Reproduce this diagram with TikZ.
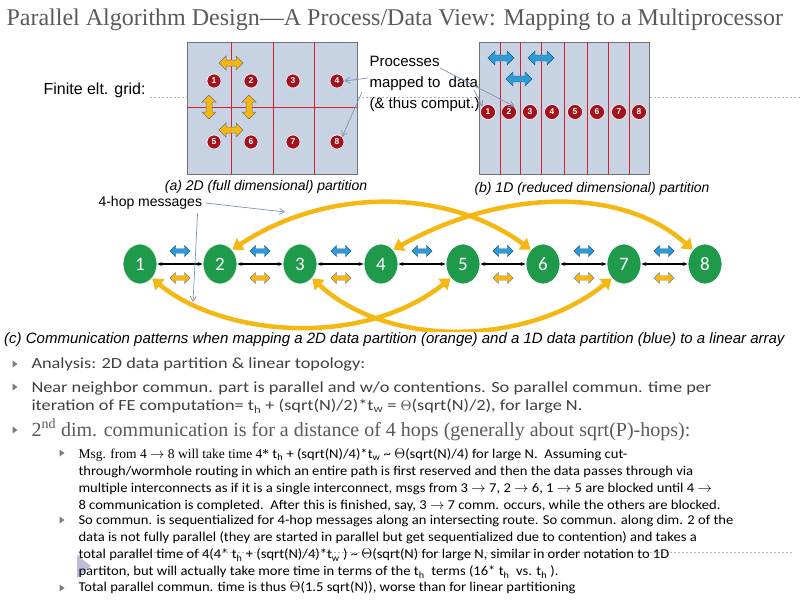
\documentclass[tikz,border=0pt]{standalone}
\usepackage{fontspec}
\setmainfont{Liberation Serif}
\newfontfamily\arialf{Liberation Sans}
\newfontfamily\gillA[FakeStretch=1.18]{Carlito}
\newfontfamily\gillB[FakeStretch=1.08]{Carlito}
\newfontfamily\gill{Carlito}
\usetikzlibrary{shapes.arrows,shapes.geometric,arrows.meta}
\definecolor{yel}{HTML}{F5B813}
\definecolor{blu}{HTML}{2E9AD6}
\definecolor{grn}{HTML}{1E9A4A}
\definecolor{redc}{HTML}{A3111C}
\definecolor{gridf}{HTML}{C7D3E2}
\definecolor{txt}{HTML}{404040}
\definecolor{ttl}{HTML}{5A5A5A}
\definecolor{pnt}{HTML}{7F93B8}
\definecolor{rline}{HTML}{D81E2A}
\tikzset{
 ya/.style={double arrow,fill=yel,draw=black!55,line width=0.5,minimum height=24,minimum width=14,double arrow head extend=3,inner sep=2},
 ba/.style={double arrow,fill=blu,draw=blu!60!black,line width=0.4,minimum height=26,minimum width=14,double arrow head extend=3,inner sep=2},
 sa/.style={double arrow,minimum height=20,minimum width=11,double arrow head extend=2.5,inner sep=1.5,line width=0.4},
 pc/.style={circle,fill=redc,draw=white,line width=0.6,text=white,inner sep=0,minimum size=14,font=\arialf\bfseries\fontsize{8.5}{8.5}\selectfont},
 gn/.style={ellipse,fill=grn,draw=white,line width=0.8,text=white,minimum width=34,minimum height=40,inner sep=0,font=\gill\fontsize{19}{19}\selectfont},
 big/.style={draw=yel,line width=4.5,{Triangle[length=10,width=14]}-{Triangle[length=10,width=14]}},
 ptr/.style={draw=pnt,line width=0.7,-{Straight Barb[length=5,width=6]}},
 redl/.style={draw=rline,line width=1},
 bul/.style={fill=ttl!80},
}
\begin{document}
\begin{tikzpicture}[x=1pt,y=-1pt]
\useasboundingbox (0,0) rectangle (800,600);
\fill[white] (0,0) rectangle (800,600);
\node[anchor=west,text=ttl,font=\fontsize{24}{24}\selectfont] (title) at (3,20) {Parallel Algorithm Design---A Process/Data View: Mapping to a Multiprocessor};
\draw[gray!60,dashed,dash pattern=on 2pt off 2pt] (150,97) -- (800,97);
\node[anchor=west,font=\arialf\fontsize{16}{16}\selectfont] (fin) at (40,90) {Finite elt. grid:};
% grid a
\draw[fill=gridf,draw=black!55,line width=1] (187,42) rectangle (357,174);
\foreach \x in {231,273,314} \draw[redl] (\x,42) -- (\x,174);
\draw[redl] (187,107) -- (357,107);
\foreach \n/\x/\y in {1/214/81,2/251/81,3/293/81,4/337/81,5/214/142,6/251/142,7/293/142,8/337/142}
  \node[pc] (a\n) at (\x,\y) {\n};
\node[ya] (ya1) at (231,63) {};
\node[ya] (ya2) at (231,130) {};
\node[ya,rotate=90] (ya3) at (209,107) {};
\node[ya,rotate=90] (ya4) at (249,107) {};
% grid b
\draw[fill=gridf,draw=black!55,line width=1] (479,42) rectangle (649,174);
\foreach \x in {500,520,541,564,587,608,629} \draw[redl] (\x,42) -- (\x,174);
\foreach \n/\x in {1/488,2/509,3/530,4/552,5/575,6/597,7/619,8/639}
  \node[pc,minimum size=15] (b\n) at (\x,112) {\n};
\node[ba] (ba1) at (501,58) {};
\node[ba] (ba2) at (541,58) {};
\node[ba] (ba3) at (519,79) {};
% processes text
\node[anchor=north west,align=left,font=\arialf\fontsize{15}{21}\selectfont] (proc) at (366,53) {Processes\\mapped to\ \ data\\(\& thus comput.)};
\coordinate (p1) at (440,68);
\coordinate (p2) at (474,90);
\coordinate (p3) at (368,78);
\coordinate (p4) at (362,92);
\draw[ptr] (p1) -- (b2.north east);
\draw[ptr] (p2) -- (b1.north west);
\draw[ptr] (p3) -- (a4.east);
\draw[ptr] (p4) -- (a8.north east);
\node[font=\arialf\itshape\fontsize{14}{14}\selectfont] (capa) at (266,187) {(a) 2D (full dimensional) partition};
\node[font=\arialf\itshape\fontsize{14}{14}\selectfont] (capb) at (592,189) {(b) 1D (reduced dimensional) partition};
% linear array
\foreach \n/\x in {1/140,2/220,3/300,4/381,5/463,6/543,7/624,8/705}
  \node[gn] (g\n) at (\x,264) {\n};
\foreach \a/\b in {1/2,2/3,3/4,4/5,5/6,6/7,7/8}
  \draw[line width=1.2,{Stealth[length=5]}-{Stealth[length=5]}] (g\a) -- (g\b);
\foreach \x in {180,260,341,422,503,584,664}
  \node[sa,fill=blu,draw=blu!60!black] at (\x,251) {};
\foreach \x in {180,260,341,503,584,664}
  \node[sa,fill=yel,draw=black!50] at (\x,278) {};
\draw[big] (g2.north east) .. controls (330,185) and (450,190) .. (g6.north west);
\draw[big] (g4.north east) .. controls (500,190) and (620,185) .. (g8.north west);
\draw[big] (g1.south east) .. controls (220,335) and (360,350) .. (g5.south west);
\draw[big] (g3.south east) .. controls (390,350) and (530,345) .. (g7.south west);
\node[anchor=west,font=\arialf\fontsize{14}{14}\selectfont] (hop) at (95,203) {4-hop messages};
\coordinate (h2) at (285,212);
\coordinate (h3) at (193,302);
\draw[ptr] (hop.east) -- (h2);
\draw[ptr] ([xshift=-8pt]hop.south east) -- (h3);
\node[anchor=west,fill=white,inner sep=1,font=\arialf\itshape\fontsize{15}{15}\selectfont] (capc) at (3,340) {(c) Communication patterns when mapping a 2D data partition (orange) and a 1D data partition (blue) to a linear array};
% bullets
\foreach \x/\y in {15/364,15/387,15/430,62/453,62/520,62/588}
  \fill[bul] (\x-2.5,\y-3.5) -- (\x+2.5,\y) -- (\x-2.5,\y+3.5) -- cycle;
\fill[blue!30!gray!40] (77,555) -- (91,566) -- (77,578) -- cycle;
\draw[gray!55,dashed,dash pattern=on 2pt off 2pt] (130,552) -- (792,552);
\node[anchor=west,text=txt,font=\gillA\fontsize{15.5}{15.5}\selectfont] (t1) at (28,364) {Analysis: 2D data partition \& linear topology:};
\node[anchor=north west,align=left,text=txt,font=\gillA\fontsize{15.5}{18.5}\selectfont] (t2) at (28,378) {Near neighbor commun. part is parallel and w/o contentions. So parallel commun. time per\\iteration of FE computation= t\textsubscript{h} + (sqrt(N)/2)*t\textsubscript{w} = $\Theta$(sqrt(N)/2), for large N.};
\node[anchor=west,text=ttl,font=\fontsize{20}{20}\selectfont] (t3) at (28,430) {2\textsuperscript{nd} dim. communication is for a distance of 4 hops (generally about sqrt(P)-hops):};
\node[anchor=north west,align=left,text=black,font=\gillB\fontsize{13.5}{17}\selectfont] (t4) at (75,445) {{\rmfamily Msg. from 4 $\rightarrow$ 8 will take time 4*} t\textsubscript{h} + (sqrt(N)/4)*t\textsubscript{w} \textasciitilde{} $\Theta$(sqrt(N)/4) for large N.\ \ Assuming cut-\\through/wormhole routing in which an entire path is first reserved and then the data passes through via\\multiple interconnects as if it is a single interconnect, msgs from 3 $\rightarrow$ 7, 2 $\rightarrow$ 6, 1 $\rightarrow$ 5 are blocked until 4 $\rightarrow$\\8 communication is completed.\ \ After this is finished, say, 3 $\rightarrow$ 7 comm. occurs, while the others are blocked.};
\node[anchor=north west,align=left,text=black,font=\gillB\fontsize{13.5}{17}\selectfont] (t5) at (75,512) {So commun. is sequentialized for 4-hop messages along an intersecting route. So commun. along dim. 2 of the\\data is not fully parallel (they are started in parallel but get sequentialized due to contention) and takes a\\total parallel time of 4(4* t\textsubscript{h} + (sqrt(N)/4)*t\textsubscript{w} ) \textasciitilde{} $\Theta$(sqrt(N) for large N, similar in order notation to 1D\\partiton, but will actually take more time in terms of the t\textsubscript{h}\ \ terms (16* t\textsubscript{h}\ \ vs. t\textsubscript{h} ).};
\node[anchor=west,text=black,font=\gillB\fontsize{13.5}{17}\selectfont] (t6) at (75,588) {Total parallel commun. time is thus $\Theta$(1.5 sqrt(N)), worse than for linear partitioning};
\end{tikzpicture}
\end{document}
